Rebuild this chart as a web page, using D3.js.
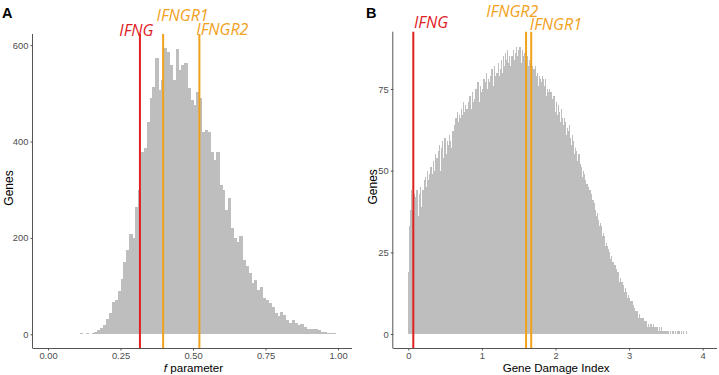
<!DOCTYPE html>
<html><head><meta charset="utf-8">
<script src="https://cdn.jsdelivr.net/npm/d3@7"></script>
<style>body{margin:0;background:#fff} svg{display:block}</style>
</head><body><svg id="c" width="719" height="375"></svg>
<script>
// ---------- data ----------
const fBinStart = 0.10, fBinWidth = 0.01;
const fCounts = [
  1, 2, 1, 2, 1, 3, 5, 9, 14, 20,
  32, 45, 66, 72, 90, 115, 150, 175, 208, 200,
  265, 300, 379, 386, 441, 490, 514, 573, 507, 528,
  593, 586, 559, 528, 591, 548, 559, 562, 510, 486,
  476, 503, 490, 420, 424, 420, 379, 362, 379, 310,
  300, 258, 282, 220, 200, 192, 203, 154, 142, 127,
  106, 113, 92, 99, 75, 71, 64, 57, 45, 37,
  47, 40, 30, 24, 30, 23, 19, 21, 15, 12,
  10, 12, 10, 8, 5, 4, 3, 3, 2
];
const gdiBinStart = 0.0, gdiBinWidth = 0.01;
const gdiCounts = [
  19, 33, 38, 40, 44, 38, 41, 43, 37, 42,
  41, 44, 40, 36, 43, 41, 45, 39, 42, 44,
  43, 47, 42, 48, 45, 50, 44, 47, 49, 46,
  51, 47, 49, 53, 50, 48, 55, 52, 54, 51,
  56, 53, 58, 50, 57, 55, 59, 54, 56, 60,
  57, 55, 59, 56, 58, 61, 54, 59, 57, 60,
  62, 58, 64, 61, 66, 63, 68, 65, 62, 67,
  66, 69, 64, 67, 71, 65, 68, 70, 66, 69,
  68, 71, 67, 73, 70, 69, 74, 71, 68, 72,
  72, 75, 70, 74, 77, 73, 71, 76, 74, 72,
  75, 73, 78, 74, 77, 80, 75, 72, 78, 76,
  77, 79, 75, 81, 78, 76, 82, 79, 77, 80,
  80, 78, 83, 79, 81, 77, 84, 80, 82, 85,
  82, 86, 81, 84, 87, 83, 80, 85, 82, 84,
  85, 83, 87, 84, 82, 86, 88, 83, 85, 87,
  84, 88, 86, 83, 87, 85, 82, 86, 84, 81,
  83, 85, 82, 80, 84, 81, 83, 79, 82, 80,
  81, 78, 82, 79, 77, 80, 76, 79, 78, 75,
  77, 79, 75, 78, 74, 76, 78, 73, 75, 74,
  73, 75, 71, 74, 70, 72, 69, 73, 71, 68,
  69, 71, 67, 70, 66, 68, 65, 69, 64, 66,
  64, 66, 62, 65, 61, 63, 60, 62, 64, 59,
  60, 58, 61, 57, 59, 55, 57, 54, 56, 53,
  53, 55, 51, 52, 49, 51, 48, 50, 47, 49,
  47, 45, 46, 43, 45, 42, 44, 41, 43, 40,
  41, 39, 40, 37, 38, 36, 37, 34, 35, 33,
  34, 32, 33, 30, 31, 29, 30, 27, 28, 26,
  27, 26, 24, 25, 23, 24, 22, 21, 22, 20,
  21, 19, 20, 18, 19, 17, 16, 17, 15, 16,
  16, 14, 15, 13, 14, 12, 13, 11, 12, 11,
  11, 10, 9, 10, 8, 9, 7, 8, 7, 6,
  7, 6, 5, 6, 5, 4, 5, 4, 5, 3,
  4, 3, 4, 3, 2, 3, 3, 2, 2, 3,
  2, 2, 3, 1, 2, 2, 1, 2, 1, 1,
  2, 1, 1, 2, 1, 1, 1, 0, 1, 1,
  1, 0, 1, 1, 0, 1, 0, 0, 1, 0,
  1, 0, 1, 0, 0, 1, 0, 1, 0, 0,
  1, 0, 0, 1, 0, 0, 0, 1, 0, 0
];
const fXTicks = [0, 0.25, 0.5, 0.75, 1];
const fXTickLabels = ["0.00", "0.25", "0.50", "0.75", "1.00"];
const fYTicks = [0, 200, 400, 600];
const gdiXTicks = [0, 1, 2, 3, 4];
const gdiYTicks = [0, 25, 50, 75];
const fGenes = ["IFNG", "IFNGR1", "IFNGR2"];
const fGeneValues = [0.317, 0.397, 0.522];
const gdiGenes = ["IFNG", "IFNGR2", "IFNGR1"];
const gdiGeneValues = [0.068, 1.60, 1.67];
const geneKinds = {IFNG: "ligand", IFNGR1: "receptor", IFNGR2: "receptor"};

// ---------- styles / layout ----------
const colBar = "#bebebe", colRed = "#e0201f", colOrange = "#f2a11c";
const svg = d3.select("#c");

function panel(o) {
  const g = svg.append("g");
  const x = d3.scaleLinear().domain(o.xDomain).range(o.xRange);
  const y = d3.scaleLinear().domain(o.yDomain).range(o.yRange);
  // bars
  g.append("g").attr("shape-rendering", "crispEdges").selectAll("rect").data(o.counts).join("rect")
    .attr("x", (d, i) => x(o.start + i * o.bw))
    .attr("width", (d, i) => x(o.start + (i + 1) * o.bw) - x(o.start + i * o.bw) + o.overlap)
    .attr("y", d => y(d))
    .attr("height", d => y(0) - y(d))
    .attr("fill", colBar)
    .attr("display", d => d > 0 ? null : "none");
  // vlines
  g.append("g").selectAll("line").data(o.geneValues).join("line")
    .attr("x1", d => x(d)).attr("x2", d => x(d))
    .attr("y1", o.top).attr("y2", o.bottom)
    .attr("stroke", (d, i) => geneKinds[o.genes[i]] === "ligand" ? colRed : colOrange)
    .attr("stroke-width", 2);
  // axes
  const ax = g.append("g").attr("transform", `translate(0,${o.bottom})`)
    .call(d3.axisBottom(x).tickValues(o.xTicks).tickFormat((d, i) => o.xTickLabels ? o.xTickLabels[i] : d).tickSizeInner(2.5).tickSizeOuter(0).tickPadding(1.5));
  ax.select(".domain").attr("d", `M${o.left},0.5H${o.right}`);
  const ay = g.append("g").attr("transform", `translate(${o.left},0)`)
    .call(d3.axisLeft(y).tickValues(o.yTicks).tickSizeInner(2.5).tickSizeOuter(0).tickPadding(2));
  ay.select(".domain").attr("d", `M-0.5,${o.top}V${o.bottom + 0.5}`);
  [ax, ay].forEach(a => {
    a.select(".domain").attr("stroke", "#555").attr("stroke-width", 1);
    a.selectAll(".tick line").attr("stroke", "#555");
    a.selectAll(".tick text").attr("fill", "#4d4d4d").style("font-family", "'Liberation Sans', Arial, sans-serif").style("font-size", "9.4px");
  });
  // gene labels
  g.append("g").selectAll("text").data(o.genes).join("text")
    .attr("x", (d, i) => x(o.geneValues[i]) + o.labelDx[i])
    .attr("y", (d, i) => o.labelY[i])
    .attr("text-anchor", "middle")
    .style("font-family", "'Open Sans', 'Noto Sans', sans-serif")
    .style("font-style", "italic").style("font-size", "16px")
    .attr("fill", d => geneKinds[d] === "ligand" ? colRed : colOrange)
    .text(d => d);
  // titles
  const ty = (o.top + o.bottom) / 2 - 3;
  g.append("text").attr("transform", `translate(${o.yTitleX},${ty}) rotate(-90)`)
    .attr("text-anchor", "middle").style("font-family", "'Liberation Sans', Arial, sans-serif")
    .style("font-size", "12px").attr("fill", "#000").text("Genes");
  const xt = g.append("text").attr("x", (o.left + o.right) / 2 + o.xTitleDx).attr("y", 371.5)
    .attr("text-anchor", "middle").style("font-family", "'Liberation Sans', Arial, sans-serif")
    .style("font-size", "11.6px").attr("fill", "#000");
  o.xTitle(xt);
  g.append("text").attr("x", o.letterX).attr("y", 17.5)
    .style("font-family", "'Liberation Sans', Arial, sans-serif").style("font-weight", "bold")
    .style("font-size", "14.5px").attr("fill", "#000").text(o.letter);
}

panel({
  counts: fCounts, start: fBinStart, bw: fBinWidth, overlap: 0.5,
  xDomain: [0, 1], xRange: [48, 338], yDomain: [0, 600], yRange: [334.3, 45.1],
  left: 33, right: 352, top: 34, bottom: 348,
  xTicks: fXTicks, xTickLabels: fXTickLabels, yTicks: fYTicks,
  genes: fGenes, geneValues: fGeneValues,
  labelDx: [-3.5, 19.5, 23], labelY: [36, 21, 35],
  yTitleX: 13, xTitleDx: 1, letter: "A", letterX: 2,
  xTitle: t => { t.append("tspan").style("font-style", "italic").text("f"); t.append("tspan").text(" parameter"); }
});
panel({
  counts: gdiCounts, start: gdiBinStart, bw: gdiBinWidth, overlap: 0.5,
  xDomain: [0, 4], xRange: [408.3, 702.7], yDomain: [0, 75], yRange: [334, 89],
  left: 393.3, right: 717, top: 31.7, bottom: 348,
  xTicks: gdiXTicks, xTickLabels: null, yTicks: gdiYTicks,
  genes: gdiGenes, geneValues: gdiGeneValues,
  labelDx: [17.7, -13.8, 24.7], labelY: [28, 17, 30],
  yTitleX: 377, xTitleDx: 1, letter: "B", letterX: 366,
  xTitle: t => t.text("Gene Damage Index")
});
</script>
</body></html>
